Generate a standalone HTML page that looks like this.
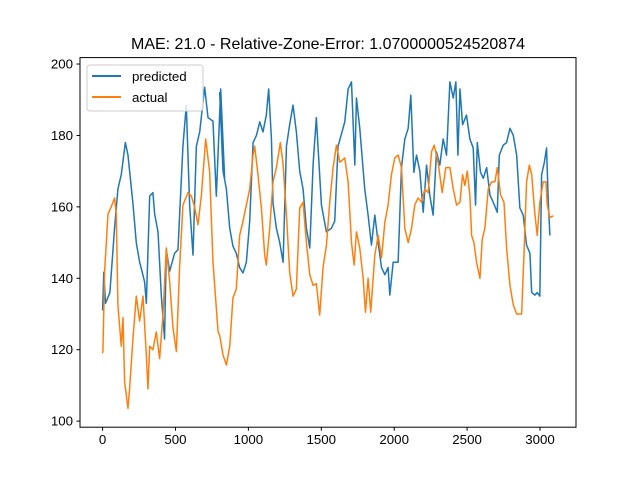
<!DOCTYPE html>
<html><head><meta charset="utf-8"><style>
html,body{margin:0;padding:0;background:#fff;}
svg{display:block;font-family:"Liberation Sans","DejaVu Sans",sans-serif;}
</style></head><body>
<svg id="chart" width="640" height="480" viewBox="0 0 640 480">
<rect x="0" y="0" width="640" height="480" fill="#fff"/>
<text x="328" y="49" text-anchor="middle" font-size="16" fill="#000">MAE: 21.0 - Relative-Zone-Error: 1.0700000524520874</text>
<g id="plot"></g>
<rect x="80" y="57.6" width="496" height="369.6" fill="none" stroke="#000" stroke-width="1"/>
<g id="xticks"></g><g id="yticks"></g>
<g>
<rect x="87" y="65" width="116" height="46" rx="3" fill="#fff" fill-opacity="0.8" stroke="#ccc"/>
<line x1="92" y1="76" x2="121" y2="76" stroke="#1f77b4" stroke-width="2"/>
<text x="132" y="81" font-size="13.3">predicted</text>
<line x1="92" y1="97" x2="121" y2="97" stroke="#ff7f0e" stroke-width="2"/>
<text x="132" y="102" font-size="13.3">actual</text>
</g>
</svg>
<script>
const xTicks=[0,500,1000,1500,2000,2500,3000];
const yTicks=[100,120,140,160,180,200];
const predX=[0,8,20,50,82,105,128,156,174,208,231,254,270,288,300,323,345,357,380,403,425,437,460,494,517,551,574,597,620,643,666,700,723,757,780,810,837,
803+0,826,849,872,894,917,940,963,986,1009,1032,1055,1078,1100,1123,1139,1158,1169,1192,1215,1238,1261,1283,1306,1329,1352,1375,1398,1421,1444,1466,1478,1501,1535,1569,1592,1615,
1661,1684,1707,1730,1741,1764,1798,1821,1844,1867,1890,1913,1936,1958,1970,1993,2027,2050,2073,2096,2114,2135,2153,2176,2199,2222,2244,2267,2290,2313,2336,2359,
2382,2405,2423,2437,2451,2469,2496,2519,2542,2558,2570,2592,2611,2634,2657,2679,2707,2721,2748,2771,2794,2817,2840,2862,2885,2908,2931,2943,2965,2981,2999,3011,3030,3045,3057,3068];
const predY=[131,141.7,133,136,154,165,169,178,174.5,161,150,144.5,142,139,133,163,164,158,153,135,123,148,142,147,148,177,188.5,160.5,146.5,177,181,193.5,185,184,163,193,168,
192,170,165,154,149,147,143,141.5,144.5,156,178,180,183.8,181,185.7,193,179,161,154,150,144.5,177,183,188.5,181,170,165,154,148.5,172,185,176.5,160.5,153,154,156,177,
183.8,193,195,171.7,190.5,182,165,157.7,149.3,157.7,150,143,141,143,135.3,144.5,144.5,171,179,182,191.3,169.7,174.5,170,158.5,171.7,163.3,157.7,175.4,171.7,179,174.5,
195,190.5,195,174.5,193,183,185.7,179,176.5,160.5,178,169.7,168,171,163.3,161.3,158.5,174.5,177.3,178,182,180,174.5,159.7,157.7,149.3,147,136,135.3,136,135,169,172.5,176.5,161.3,152];
const actX=[0,2,14,37,59,82,94,105,128,140,151,174,185,208,231,254,277,300,311,323,345,368,391,414,437,460,483,506,528,551,586,609,631,654,677,707,734,757,792,
803,826,849,872,894,917,940,963,986,1009,1032,1043,1066,1089,1112,1123,1146,1169,1192,1219,1238,1261,1283,1306,1329,1352,1375,1398,1421,1444,1466,1489,1512,1535,1558,1581,1604,1627,
1661,1684,1707,1725,1741,1764,1787,1803,1821,1839,1867,1890,1913,1936,1958,1981,2004,2027,2050,2073,2096,2119,2141,2164,2187,2210,2233,2256,2274,2301,2329,2354,
2382,2405,2428,2451,2469,2485,2501,2519,2531,2547,2565,2588,2604,2622,2645,2668,2691,2707,2730,2753,2771,2794,2817,2840,2874,2890,2908,2927,2943,2965,2981,2999,3022,3041,3050,3068,3091];
const actY=[119,119.5,142,158,160,162.5,158,132.5,121,129,111,103.6,109,123,135,128,135,118.5,109,121,120,125,117.5,129.7,148.5,139,126,119.5,143,160.5,164,163,160,155,163,179,170,144.5,125,
124,118.5,115.7,121,134.5,137,152,156,160.5,165,174.5,177,169,159.7,146.5,143.7,154,167,171,178,172,157.7,141.7,135,137,159.7,161.3,150,141,138,138.5,129.7,143,149.3,161.3,171,177.3,172.5,
173.7,167,150,143.7,153,148.5,140,130.5,140,130.5,146.5,152,145.7,155.7,160.5,169,173.7,174.5,171,154,150,154,160.5,162.5,161.3,165,164,175.4,177.3,172.5,164,171,
171,165,160.5,161.3,169,166,170,163.3,152,150,144.5,140,151,154,165,167,167,171,163.3,161.3,148.5,138,132.5,130,130,146.5,167,171.7,169,158,152,161.3,167,167,160.5,157,157.5];

const L=80,R=576,T=57.6,B=427.2,x0=-155,x1=3247,y0=98.3,y1=201.8;
const sx=v=>L+(v-x0)/(x1-x0)*(R-L);
const sy=v=>B-(v-y0)/(y1-y0)*(B-T);
const NS="http://www.w3.org/2000/svg";
function mk(tag,attrs,parent){const e=document.createElementNS(NS,tag);for(const k in attrs)e.setAttribute(k,attrs[k]);parent.appendChild(e);return e;}
const plot=document.getElementById('plot');
function line(xs,ys,color,name){
  let d='';for(let i=0;i<xs.length;i++){d+=(i?'L':'M')+sx(xs[i]).toFixed(2)+','+sy(ys[i]).toFixed(2);}
  const p=mk('path',{d:d,fill:'none',stroke:color,'stroke-width':1.5,'stroke-linejoin':'round'},plot);
  
  
}
line(predX,predY,'#1f77b4','predicted-line');
line(actX,actY,'#ff7f0e','actual-line');
const xt=document.getElementById('xticks');
xTicks.forEach(v=>{
  const g=mk('g',{},xt);
  
  
  mk('line',{x1:sx(v),x2:sx(v),y1:B,y2:B+3.5,stroke:'#000'},g);
  const t=mk('text',{x:sx(v),y:B+17,'text-anchor':'middle','font-size':13.3},g);t.textContent=v;
});
const yt=document.getElementById('yticks');
yTicks.forEach(v=>{
  const g=mk('g',{},yt);
  
  
  mk('line',{x1:L-3.5,x2:L,y1:sy(v),y2:sy(v),stroke:'#000'},g);
  const t=mk('text',{x:L-7,y:sy(v)+4.5,'text-anchor':'end','font-size':13.3},g);t.textContent=v;
});
</script>
</body></html>
